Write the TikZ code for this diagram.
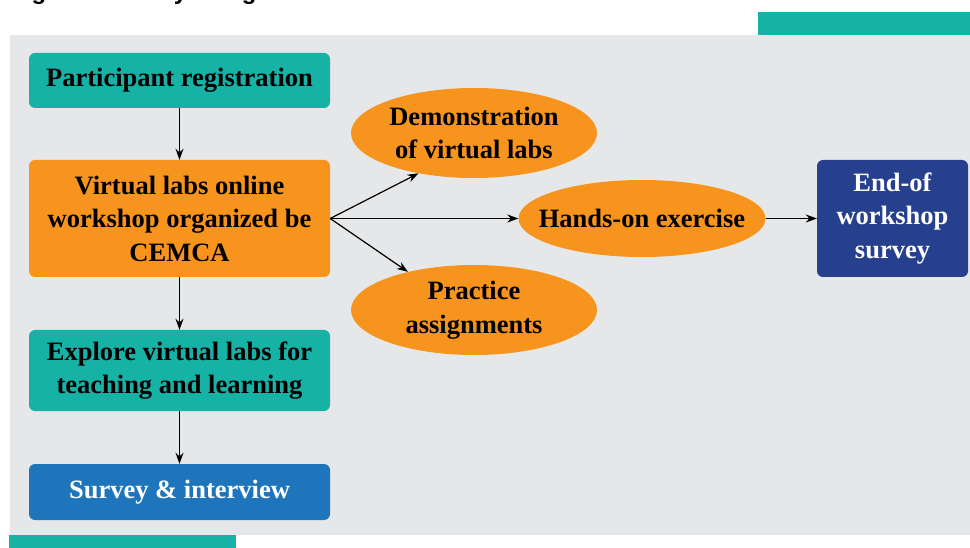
\documentclass[tikz,border=0pt]{standalone}
\usepackage{fontspec}
\setmainfont{Liberation Serif}
\newfontfamily\capfont{Liberation Sans}
\usetikzlibrary{arrows.meta,shapes.geometric}
\definecolor{bgc}{RGB}{230,231,232}
\definecolor{tealc}{RGB}{22,178,165}
\definecolor{orng}{RGB}{247,148,30}
\definecolor{blu}{RGB}{30,117,188}
\definecolor{navy}{RGB}{38,64,142}
\begin{document}
\begin{tikzpicture}[x=1pt,y=-1pt,
  txt/.style={font=\bfseries\fontsize{26.5}{33.5}\selectfont, align=center},
  box/.style={txt, rounded corners=6pt, inner sep=0pt},
  oval/.style={ellipse, fill=orng, inner sep=0pt},
  arr/.style={line width=1.2pt, -{Stealth[length=11pt,width=8pt]}}]
\useasboundingbox (0,0) rectangle (970,548);
\fill[bgc] (10,35) rectangle (970,535);
\fill[tealc] (758,12) rectangle (970,35);
\fill[tealc] (9,535) rectangle (236,548);
\begin{scope}
\clip (0,0) rectangle (970,548);
\node[anchor=base west, inner sep=0pt, font=\capfont\bfseries\fontsize{24}{28}\selectfont] (cap) at (10,-0.5) {Figure 1: Study design};
\end{scope}
\node[box, fill=tealc, minimum width=301pt, minimum height=55pt] (reg) at (179.5,80.5) {Participant registration};
\node[box, fill=orng, minimum width=301pt, minimum height=117pt] (vl) at (179.5,218.5) {Virtual labs online\\workshop organized be\\CEMCA};
\node[box, fill=tealc, minimum width=301pt, minimum height=81pt] (exp) at (179.5,370.5) {Explore virtual labs for\\teaching and learning};
\node[box, fill=blu, text=white, minimum width=301pt, minimum height=56pt] (sur) at (179.5,492) {Survey \& interview};
\node[box, fill=navy, text=white, minimum width=151pt, minimum height=117pt] (end) at (892.5,218.5) {End-of\\workshop\\survey};
\node[oval, minimum width=246pt, minimum height=90pt] (demo) at (474,133) {};
\node[txt] (demotxt) at (demo) {Demonstration\\of virtual labs};
\node[oval, minimum width=247pt, minimum height=77pt] (hands) at (642,218.5) {};
\node[txt] (handstxt) at (hands) {Hands-on exercise};
\node[oval, minimum width=246pt, minimum height=90pt] (prac) at (474,310) {};
\node[txt] (practxt) at (prac) {Practice\\assignments};
\draw[arr] (reg) -- (vl);
\draw[arr] (vl) -- (exp);
\draw[arr] (exp) -- (sur);
\draw[arr] (vl.east) -- (demo.216);
\draw[arr] (vl.east) -- (hands.west);
\draw[arr] (vl.east) -- (prac.150);
\draw[arr] (hands.east) -- (end.west);
\end{tikzpicture}
\end{document}
